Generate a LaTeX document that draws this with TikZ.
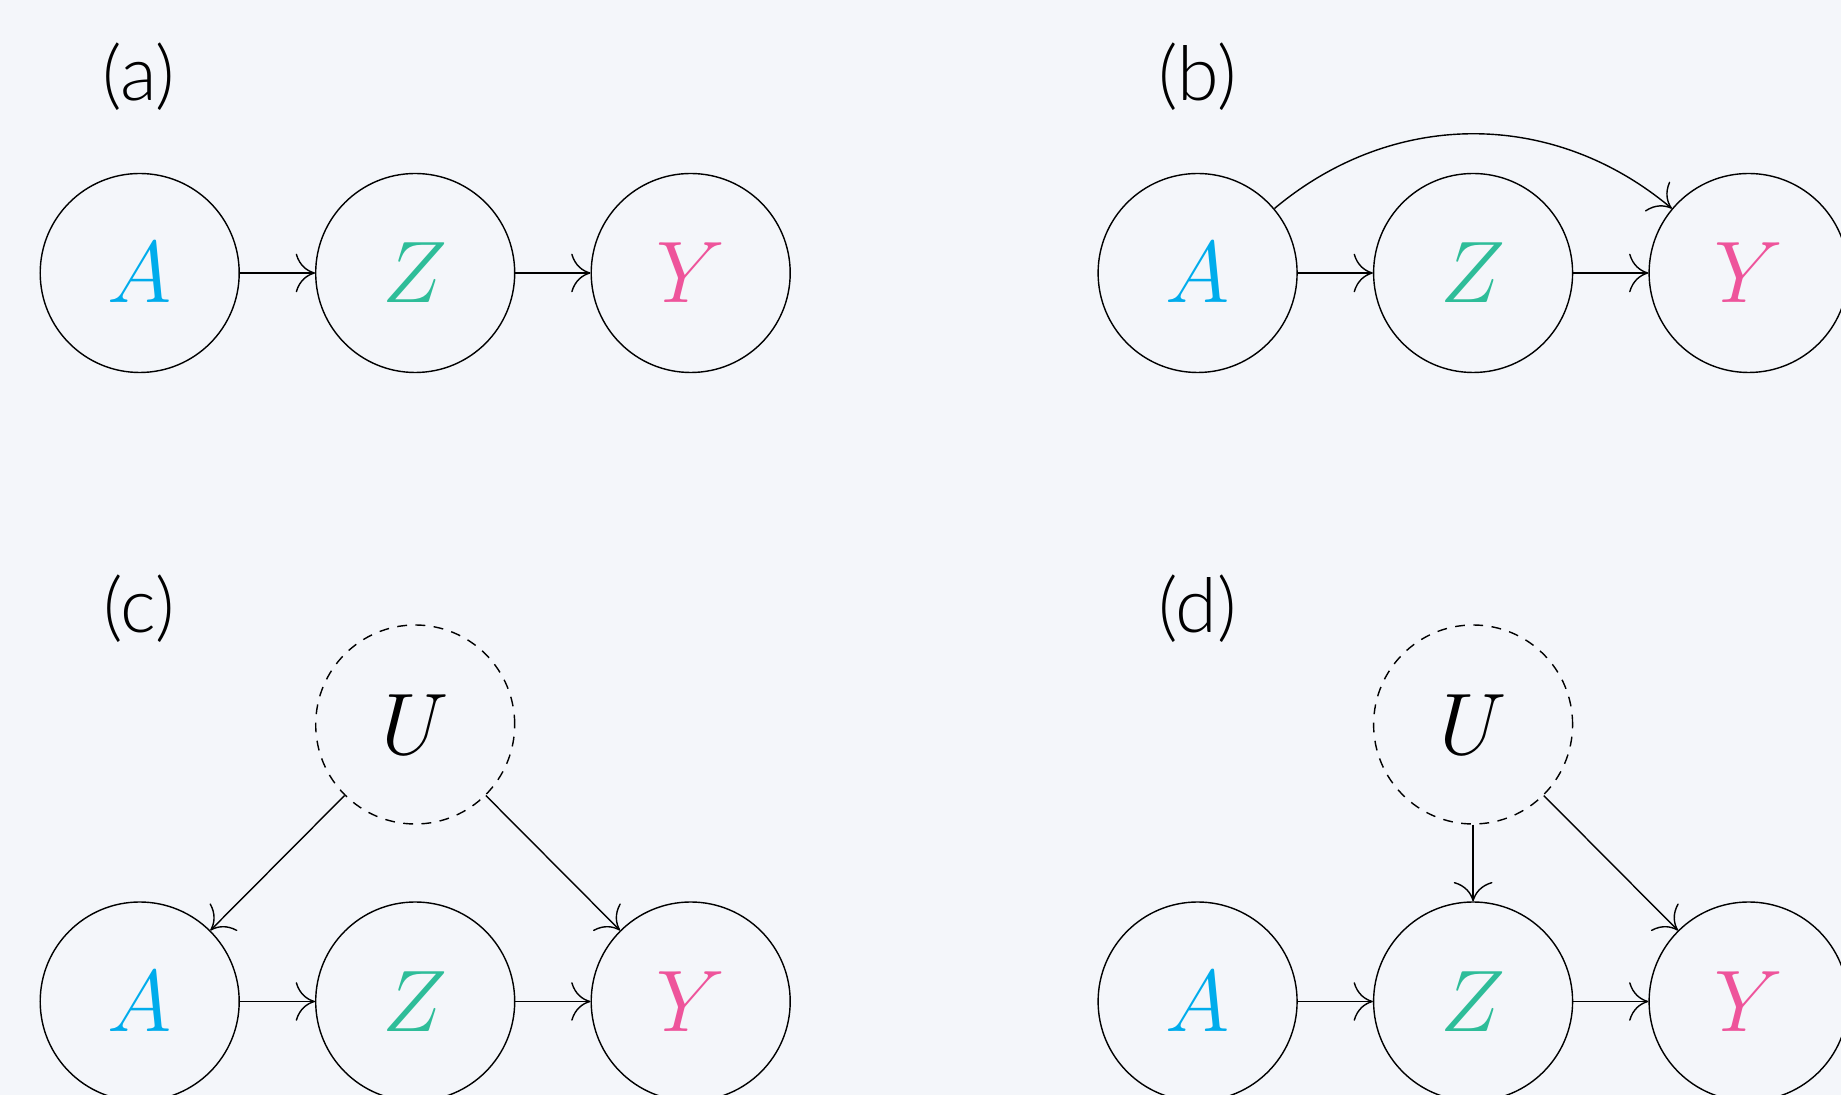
\documentclass[tikz,border=0pt]{standalone}
\usepackage{fontspec}
\setmainfont{Lato}
\newfontfamily\panelfont{Lato Light}
\definecolor{dagbg}{RGB}{244,246,250}
\definecolor{dagblue}{RGB}{0,172,236}
\definecolor{daggreen}{RGB}{46,189,153}
\definecolor{dagpink}{RGB}{238,84,155}
\usetikzlibrary{arrows.meta}

\begin{document}
\begin{tikzpicture}[
  var/.style={draw, circle, minimum size=1.99cm, inner sep=0pt, font=\fontsize{23.5}{28}\selectfont},
  latent/.style={var, dash pattern=on 2.8pt off 2.4pt},
  edge/.style={-{Computer Modern Rightarrow[length=5.5pt,width=11pt]}},
  panel/.style={anchor=base, font=\panelfont\fontsize{21.5}{26}\selectfont}
]
  % Background
  \fill[dagbg] (0,0) rectangle (18.41,-10.95);
  \useasboundingbox (0,0) rectangle (18.41,-10.95);
  \clip (0,0) rectangle (18.41,-10.95);

  % Panel (a): chain
  \node[panel] (la) at (1.39,-1.007) {(a)};
  \node[var] (Aa) at (1.397,-2.73) {$\color{dagblue}A$};
  \node[var] (Za) at (4.152,-2.73) {$\color{daggreen}Z$};
  \node[var] (Ya) at (6.907,-2.73) {$\color{dagpink}Y$};
  \draw[edge] (Aa) -- (Za);
  \draw[edge] (Za) -- (Ya);

  % Panel (b): chain with direct effect
  \node[panel] (lb) at (11.976,-1.007) {(b)};
  \node[var] (Ab) at (11.976,-2.73) {$\color{dagblue}A$};
  \node[var] (Zb) at (14.731,-2.73) {$\color{daggreen}Z$};
  \node[var] (Yb) at (17.486,-2.73) {$\color{dagpink}Y$};
  \draw[edge] (Ab) -- (Zb);
  \draw[edge] (Zb) -- (Yb);
  \draw[edge] (Ab) to[bend left=40] (Yb);

  % Panel (c): confounder of A and Y
  \node[panel] (lc) at (1.39,-6.326) {(c)};
  \node[latent] (Uc) at (4.152,-7.245) {$U$};
  \node[var] (Ac) at (1.397,-10.015) {$\color{dagblue}A$};
  \node[var] (Zc) at (4.152,-10.015) {$\color{daggreen}Z$};
  \node[var] (Yc) at (6.907,-10.015) {$\color{dagpink}Y$};
  \draw[edge] (Ac) -- (Zc);
  \draw[edge] (Zc) -- (Yc);
  \draw[edge] (Uc) -- (Ac);
  \draw[edge] (Uc) -- (Yc);

  % Panel (d): confounder of Z and Y
  \node[panel] (ld) at (11.976,-6.326) {(d)};
  \node[latent] (Ud) at (14.731,-7.245) {$U$};
  \node[var] (Ad) at (11.976,-10.015) {$\color{dagblue}A$};
  \node[var] (Zd) at (14.731,-10.015) {$\color{daggreen}Z$};
  \node[var] (Yd) at (17.486,-10.015) {$\color{dagpink}Y$};
  \draw[edge] (Ad) -- (Zd);
  \draw[edge] (Zd) -- (Yd);
  \draw[edge] (Ud) -- (Zd);
  \draw[edge] (Ud) -- (Yd);
\end{tikzpicture}
\end{document}
